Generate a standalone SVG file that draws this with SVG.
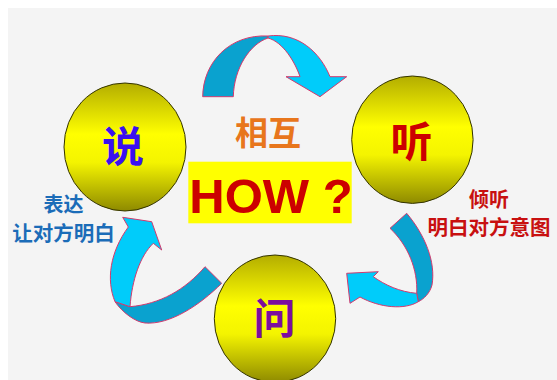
<svg xmlns="http://www.w3.org/2000/svg" width="557" height="380" viewBox="0 0 557 380">
<style>
.light{fill:#00ccfa;stroke:#d23a6e;stroke-width:1;stroke-linejoin:miter}
.dark{fill:#0aa2cf;stroke:#d23a6e;stroke-width:1;stroke-linejoin:miter}
.ball{fill:url(#yg);stroke:#333300;stroke-width:1}
.cjk{font-family:"Noto Sans CJK SC","Noto Sans",sans-serif;font-weight:700;text-anchor:middle}
</style>
<defs>
<linearGradient id="yg" x1="0" y1="0" x2="0" y2="1">
<stop offset="0" stop-color="#b3ad00"/>
<stop offset="0.4" stop-color="#ffff00"/>
<stop offset="0.62" stop-color="#f4f400"/>
<stop offset="1" stop-color="#8e8a00"/>
</linearGradient>
</defs>
<rect width="557" height="380" fill="#ffffff"/>
<rect x="8" y="8" width="549" height="372" fill="#f4f4f4"/>

<g id="connectors">
<g id="arrow-top">
<path class="dark" d="M202.7,96.7 C203,62 230,34 268,36 L268,38 C250,44 234,68 233.3,96.7 Z"/>
<path class="light" d="M268,36 C298,32 320,52 330,76.7 L346.7,76.7 L320,96.7 L286,76.7 L300,76.7 C295,62 283,42 268,38 Z"/>
</g>
<g id="arrow-right">
<path class="dark" d="M390,228.3 L406.7,213.3 C425,235 436,262 432,285 C430,293 424,299 418.3,301.7 L416.7,293.3 C418,270 408,245 390,228.3 Z"/>
<path class="light" d="M346.7,273.3 L378.3,271.7 L373.3,276.7 C385,285 400,292 416.7,293.3 L418.3,301.7 C405,310 380,308 360,297 L350,303.3 Z"/>
</g>
<g id="arrow-left">
<path class="dark" d="M115,301.7 L130,306.7 C160,304 185,290 205,266.7 L221.7,283.3 C200,305 170,325 145,323 C135,322 122,312 115,301.7 Z"/>
<path class="light" d="M128.3,227 L122.7,217.3 L151.7,221.7 L161.7,250 L153.3,243.3 C140,256 132,280 130,306.7 L115,301.7 C106,280 110,252 128.3,227 Z"/>
</g>
</g>

<g id="node-shuo">
<ellipse class="ball" cx="125" cy="147" rx="61" ry="64"/>
<text class="cjk" x="123" y="162" font-size="42" fill="#3a10f0">说</text>
</g>
<g id="node-ting">
<ellipse class="ball" cx="412.4" cy="139.7" rx="60.7" ry="63.7"/>
<text class="cjk" x="411.5" y="157" font-size="42" fill="#cc0000">听</text>
</g>
<g id="node-wen">
<ellipse class="ball" cx="275" cy="318.7" rx="60.7" ry="63.7"/>
<text class="cjk" x="274.5" y="334" font-size="42" fill="#7b0d9e">问</text>
</g>

<g id="center">
<text class="cjk" x="268" y="145" font-size="33" fill="#e8761c">相互</text>
<rect x="188.3" y="161.7" width="163.4" height="61.6" fill="#ffff00"/>
<text x="271" y="213" font-family="'Liberation Sans',Arial,sans-serif" font-weight="700" font-size="49" text-anchor="middle" fill="#cc0000">HOW ?</text>
</g>

<g id="label-left">
<text class="cjk" x="63.5" y="212" font-size="20" fill="#1b6cb8">表达</text>
<text class="cjk" x="63.5" y="240.5" font-size="20.5" fill="#1b6cb8">让对方明白</text>
</g>
<g id="label-right">
<text class="cjk" x="489" y="207" font-size="20" fill="#c81010">倾听</text>
<text class="cjk" x="489" y="234.5" font-size="20.5" fill="#c81010">明白对方意图</text>
</g>
</svg>
